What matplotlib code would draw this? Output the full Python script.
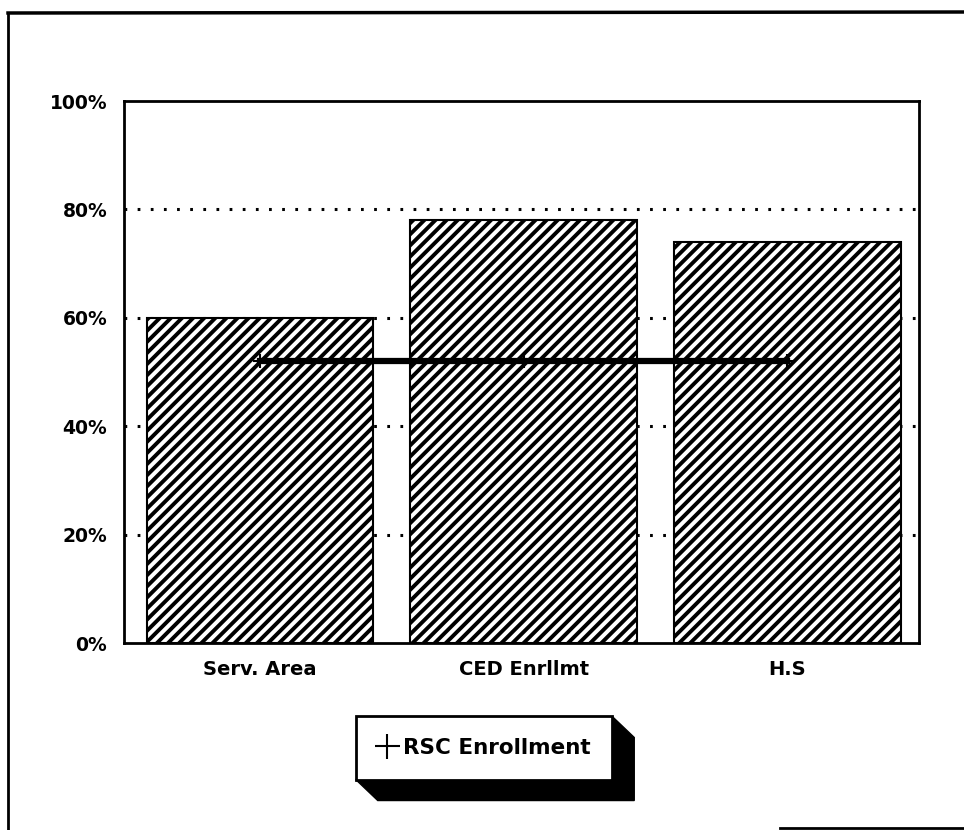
import matplotlib
matplotlib.use("Agg")
import matplotlib.pyplot as plt
from matplotlib.lines import Line2D
from matplotlib.patches import Polygon
from matplotlib.transforms import IdentityTransform

categories = ["Serv. Area", "CED Enrllmt", "H.S"]
bar_values = [60, 78, 74]
rsc_enrollment = [52, 52, 52]
yticks = [0, 20, 40, 60, 80, 100]
ytick_labels = ["0%", "20%", "40%", "60%", "80%", "100%"]
legend_label = "RSC Enrollment"

plt.rcParams['font.family'] = ['DejaVu Sans']
plt.rcParams['hatch.linewidth'] = 2.8
plt.rcParams['hatch.color'] = 'black'

W, H = 964, 830
fig = plt.figure(figsize=(W / 100, H / 100), dpi=100)
fig.patch.set_facecolor('white')

ax = fig.add_axes([124 / W, 1 - 643 / H, (919 - 124) / W, (643 - 101) / H])
x = list(range(len(categories)))
ax.bar(x, bar_values, width=0.86, color='white', edgecolor='black',
       hatch='///', linewidth=1.5, zorder=2)
ax.plot(x, rsc_enrollment, color='black', linewidth=4.5, marker='+',
        markersize=10, markeredgewidth=1.5, zorder=3)

ax.set_xlim(-0.516, 2.5)
ax.set_ylim(0, 100)
ax.set_yticks(yticks)
ax.set_yticklabels(ytick_labels, fontsize=13.5, fontweight='bold')
ax.set_xticks(x)
ax.set_xticklabels(categories, fontsize=14, fontweight='bold')
ax.tick_params(axis='both', length=0)
ax.tick_params(axis='y', pad=12)
ax.tick_params(axis='x', pad=12)
for s in ax.spines.values():
    s.set_linewidth(2)
ax.set_axisbelow(True)
for v in yticks[1:-1]:
    ax.axhline(v, color='black', linewidth=2.2, linestyle=(0, (0.9, 3.4)), zorder=1)

# outer frame (partially cut)
fig.add_artist(Line2D([8 / W, 8 / W], [0, 1 - 13 / H], transform=fig.transFigure,
                      color='black', linewidth=2))
fig.add_artist(Line2D([8 / W, 1], [1 - 13 / H, 1 - 12 / H], transform=fig.transFigure,
                      color='black', linewidth=2.5))
fig.add_artist(Line2D([780 / W, 1], [1 - 828 / H, 1 - 828 / H], transform=fig.transFigure,
                      color='black', linewidth=2))

handle = Line2D([], [], color='black', linestyle='none', marker='+',
                markersize=18, markeredgewidth=1.5)
leg = fig.legend([handle], [legend_label], loc='center',
                 bbox_to_anchor=(484 / W, 1 - 748 / H),
                 prop={'weight': 'bold', 'size': 15.5}, frameon=True,
                 fancybox=False, framealpha=1, edgecolor='black',
                 borderpad=1.0, handlelength=0.9, handletextpad=0.3,
                 borderaxespad=0)
leg.get_frame().set_linewidth(2)

fig.canvas.draw()
bb = leg.get_frame().get_window_extent()
x0, y0, x1, y1 = bb.x0, bb.y0, bb.x1, bb.y1
dx, dy = 22, -21
shadow = Polygon([(x1, y1), (x1 + dx, y1 + dy), (x1 + dx, y0 + dy),
                  (x0 + dx, y0 + dy), (x0, y0), (x1, y0)],
                 closed=True, facecolor='black', edgecolor='black',
                 transform=IdentityTransform(), zorder=0)
fig.add_artist(shadow)

fig.savefig("out.png", dpi=100, facecolor='white')
